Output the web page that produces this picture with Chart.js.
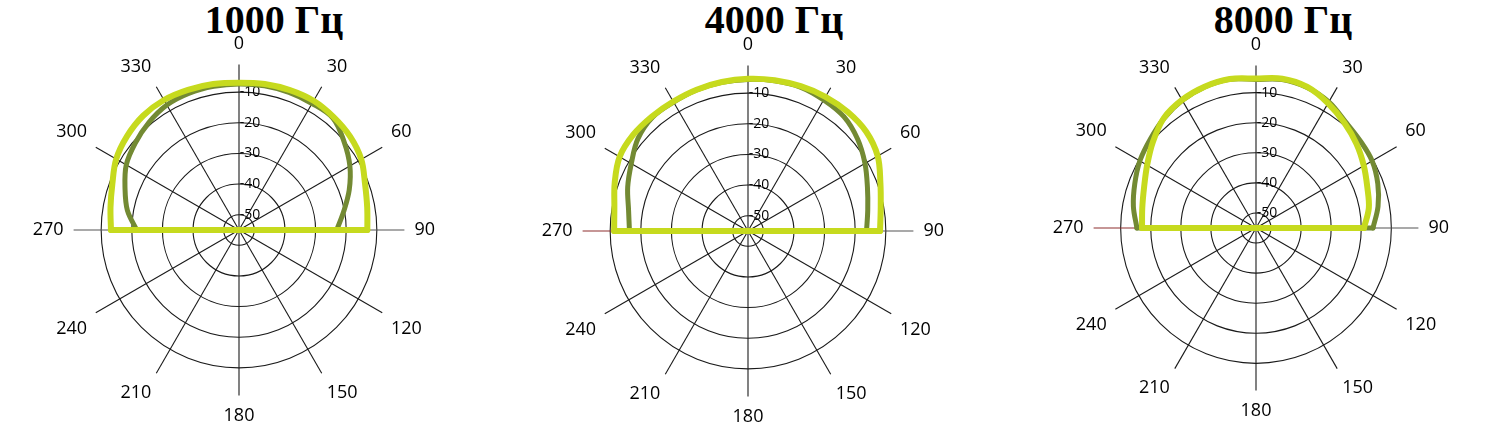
<!DOCTYPE html>
<html>
<head>
<meta charset="utf-8">
<script src="https://cdn.jsdelivr.net/npm/chart.js@4"></script>
<style>
  body { margin: 0; background: #fff; width: 1490px; height: 439px; overflow: hidden; position: relative; }
  .title { position: absolute; top: 0; width: 300px; text-align: center; font: bold 40px "Liberation Serif", "Times New Roman", serif; line-height: 40px; color: #000; }
  canvas { position: absolute; }
</style>
</head>
<body>
<div class="title" id="t1" style="left:124px"></div>
<div class="title" id="t2" style="left:624px"></div>
<div class="title" id="t3" style="left:1133px"></div>
<canvas id="c1" width="480" height="394" style="left:-1px; top:34px"></canvas>
<canvas id="c2" width="480" height="394" style="left:508px; top:35px"></canvas>
<canvas id="c3" width="468" height="388" style="left:1022px; top:35px"></canvas>
<script>
// angles around the diagram (deg), one point every 10 deg
const angleLabels = [0,10,20,30,40,50,60,70,80,90,100,110,120,130,140,150,160,170,
                     180,190,200,210,220,230,240,250,260,270,280,290,300,310,320,330,340,350];
const ringValues = [-50, -40, -30, -20, -10];   // dB rings
const scaleMin = -55, scaleMax = -1;
const titles = ["1000 Гц", "4000 Гц", "8000 Гц"];

const N = null;
// 1000 Hz
const light1000 = [-6.9,-6.6,-6.4,-6.3,-6.9,-7.6,-8.9,-11.2,-12.5,-13.1, N,N,N,N,N,N,N,N,N,N,N,N,N,N,N,N,N,
                   -13.2,-12.4,-11.0,-8.7,-7.3,-6.3,-6.0,-6.3,-6.6];
const dark1000  = [-7.3,-7.2,-7.2,-7.3,-7.3,-10.2,-13.2,-16.7,-20.3,-23.1, N,N,N,N,N,N,N,N,N,N,N,N,N,N,N,N,N,
                   -21.6,-18.0,-15.4,-12.5,-10.8,-9.2,-7.9,-7.5,-7.4];
// 4000 Hz
const light4000 = [-5.3,-5.0,-4.7,-4.4,-4.3,-4.6,-6.1,-9.0,-11.0,-11.9, N,N,N,N,N,N,N,N,N,N,N,N,N,N,N,N,N,
                   -11.3,-10.7,-8.7,-6.6,-6.1,-6.2,-6.2,-5.9,-5.6];
const dark4000  = [-5.5,-5.2,-5.0,-5.6,-6.3,-8.3,-10.9,-13.5,-15.3,-16.3, N,N,N,N,N,N,N,N,N,N,N,N,N,N,N,N,N,
                   -16.3,-15.4,-13.2,-11.0,-8.1,-6.5,-6.4,-6.0,-5.7];
// 8000 Hz
const light8000 = [-5.3,-4.6,-5.1,-7.1,-9.3,-11.4,-13.6,-15.6,-16.9,-19.1, N,N,N,N,N,N,N,N,N,N,N,N,N,N,N,N,N,
                   -17.1,-16.6,-15.4,-13.2,-10.3,-7.3,-5.8,-5.0,-4.7];
const dark8000  = [-5.6,-4.9,-5.3,-6.6,-8.8,-9.8,-10.4,-11.9,-13.8,-16.1, N,N,N,N,N,N,N,N,N,N,N,N,N,N,N,N,N,
                   -15.4,-13.6,-12.1,-10.4,-9.1,-7.4,-6.0,-5.1,-4.8];

const LIGHT = "#c6da1e";
const DARK = "#738a33";

// the closing straight line across 90-270
function flatLine(values) {
    return angleLabels.map((a, i) => (a === 90 || a === 270) ? values[i] : null);
}

function lineSet(values, color, width, flat) {
    return {
        data: flat ? flatLine(values) : values,
        borderColor: color,
        borderWidth: width,
        pointRadius: 0,
        fill: false,
        spanGaps: flat,
        tension: flat ? 0 : 0.35,
        borderCapStyle: flat ? "butt" : "round",
        borderJoinStyle: "round"
    };
}

function drawPolar(canvasId, light, dark, redSpoke) {
    const ctx = document.getElementById(canvasId).getContext("2d");
    return new Chart(ctx, {
        type: "radar",
        data: {
            labels: angleLabels,
            datasets: [
                lineSet(light, LIGHT, 6, false),
                lineSet(light, LIGHT, 6, true),
                lineSet(dark, DARK, 5, false),
                lineSet(dark, DARK, 5, true)
            ]
        },
        options: {
            responsive: false,
            animation: false,
            layout: { padding: 0 },
            plugins: { legend: { display: false }, tooltip: { enabled: false } },
            scales: {
                r: {
                    min: scaleMin,
                    max: scaleMax,
                    afterBuildTicks: scale => { scale.ticks = ringValues.map(v => ({ value: v })); },
                    grid: { circular: true, color: "#1a1a1a", lineWidth: 1.1 },
                    angleLines: {
                        lineWidth: c => c.index % 3 === 0 ? 1.1 : 0,
                        color: c => {
                            if (redSpoke && angleLabels[c.index] === 270) return "#8e2f2f";
                            if (angleLabels[c.index] % 180 === 90) return "#555";
                            return "#1a1a1a";
                        }
                    },
                    pointLabels: {
                        padding: 3,
                        color: "#000",
                        font: { family: "Open Sans", size: 18 },
                        callback: l => l % 30 === 0 ? String(l) : ""
                    },
                    ticks: {
                        color: "#000",
                        font: { family: "Open Sans", size: 14 },
                        showLabelBackdrop: false,
                        backdropPadding: 0,
                        callback: v => "      " + v
                    }
                }
            }
        }
    });
}

document.getElementById("t1").textContent = titles[0];
document.getElementById("t2").textContent = titles[1];
document.getElementById("t3").textContent = titles[2];

drawPolar("c1", light1000, dark1000, false);
drawPolar("c2", light4000, dark4000, true);
drawPolar("c3", light8000, dark8000, true);
</script>
</body>
</html>
